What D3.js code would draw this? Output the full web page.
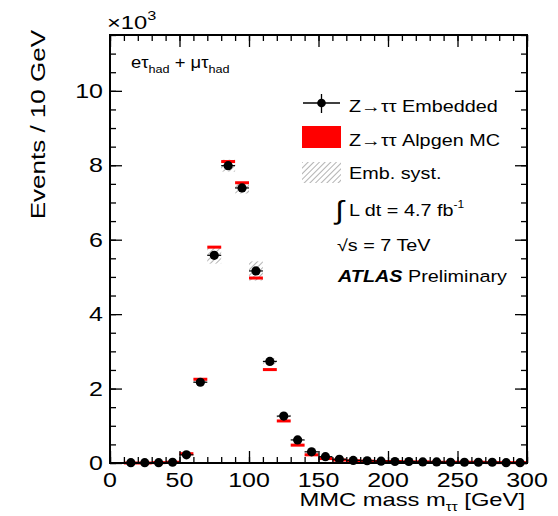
<!DOCTYPE html>
<html>
<head>
<meta charset="utf-8">
<script src="https://cdn.jsdelivr.net/npm/d3@7"></script>
<style>
  body { margin: 0; background: #fff; }
  text { font-family: "Liberation Sans", Arial, Helvetica, sans-serif; fill: #000; }
</style>
</head>
<body>
<div id="chart"></div>
<script>
// Bin centres (GeV) and contents in units of 10^3 events
var binCenters = [15, 25, 35, 45, 55, 65, 75, 85, 95, 105, 115, 125, 135, 145, 155,
                  165, 175, 185, 195, 205, 215, 225, 235, 245, 255, 265, 275, 285, 295];
var embedded = [0.01, 0.01, 0.01, 0.02, 0.22, 2.17, 5.58, 7.99, 7.39, 5.16, 2.73, 1.26, 0.62, 0.30, 0.17,
                0.10, 0.07, 0.06, 0.05, 0.04, 0.04, 0.03, 0.03, 0.02, 0.02, 0.02, 0.02, 0.01, 0.01];
var alpgen = [0.0, 0.0, 0.01, 0.02, 0.25, 2.25, 5.80, 8.10, 7.53, 4.97, 2.51, 1.13, 0.48, 0.22, 0.12,
              0.08, 0.06, 0.05, 0.04, 0.04, 0.03, 0.03, 0.02, 0.02, 0.02, 0.02, 0.01, 0.01, 0.01];
var systFrac = [0.05, 0.05, 0.05, 0.05, 0.05, 0.02, 0.04, 0.02, 0.02, 0.05, 0.03, 0.03, 0.04, 0.05, 0.05,
                0.05, 0.05, 0.05, 0.05, 0.05, 0.05, 0.05, 0.05, 0.05, 0.05, 0.05, 0.05, 0.05, 0.05];
var xTicks = [0, 50, 100, 150, 200, 250, 300];
var yTicks = [0, 2, 4, 6, 8, 10];
var legendText = ["Z→ττ Embedded", "Z→ττ Alpgen MC", "Emb. syst."];

var W = 558, H = 516;
var margin = {top: 35, right: 31, bottom: 53, left: 110},
    width = W - margin.left - margin.right,
    height = H - margin.top - margin.bottom;
var SX = 1.25; // text in the reference is drawn wide

var svg = d3.select("#chart").append("svg")
  .attr("width", W).attr("height", H);

// place a text at (px,py), widened along its baseline
function wide(sel, px, py, s) {
  return sel.attr("transform", "translate(" + px + "," + py + ") scale(" + (s || SX) + ",1)");
}

var defs = svg.append("defs");
var pat = defs.append("pattern")
  .attr("id", "hatch")
  .attr("patternUnits", "userSpaceOnUse")
  .attr("width", 4).attr("height", 4)
  .attr("patternTransform", "rotate(45)");
pat.append("line")
  .attr("x1", 0).attr("y1", 0).attr("x2", 0).attr("y2", 4)
  .attr("stroke", "#8a8a8a").attr("stroke-width", 1.3);

var g = svg.append("g")
  .attr("transform", "translate(" + margin.left + "," + margin.top + ")");

var x = d3.scaleLinear().domain([0, 300]).range([0, width]);
var y = d3.scaleLinear().domain([0, 11.5]).range([height, 0]);
var halfBin = 5;

// Embedded systematic band (hatched)
g.selectAll(".syst").data(binCenters).enter().append("rect")
  .attr("x", function(d) { return x(d - halfBin); })
  .attr("width", function(d) { return x(d + halfBin) - x(d - halfBin); })
  .attr("y", function(d, i) { return y(embedded[i] * (1 + systFrac[i])); })
  .attr("height", function(d, i) { return Math.max(1, y(embedded[i] * (1 - systFrac[i])) - y(embedded[i] * (1 + systFrac[i]))); })
  .attr("fill", "url(#hatch)");

// Alpgen MC (red boxes)
g.selectAll(".mc").data(binCenters).enter().append("rect")
  .attr("x", function(d) { return x(d - halfBin); })
  .attr("width", function(d) { return x(d + halfBin) - x(d - halfBin); })
  .attr("y", function(d, i) { return y(alpgen[i]) - 1.5; })
  .attr("height", 3)
  .attr("fill", "#ff0000");

// Embedded data points with error bars
var pts = g.selectAll(".pt").data(binCenters).enter().append("g");
pts.append("line")
  .attr("x1", function(d) { return x(d - halfBin); })
  .attr("x2", function(d) { return x(d + halfBin); })
  .attr("y1", function(d, i) { return y(embedded[i]); })
  .attr("y2", function(d, i) { return y(embedded[i]); })
  .attr("stroke", "#000").attr("stroke-width", 1.2);
pts.append("line")
  .attr("x1", function(d) { return x(d); })
  .attr("x2", function(d) { return x(d); })
  .attr("y1", function(d, i) { return y(embedded[i] + Math.sqrt(embedded[i] * 1000) / 1000); })
  .attr("y2", function(d, i) { return y(Math.max(0, embedded[i] - Math.sqrt(embedded[i] * 1000) / 1000)); })
  .attr("stroke", "#000").attr("stroke-width", 1.2);
pts.append("circle")
  .attr("cx", function(d) { return x(d); })
  .attr("cy", function(d, i) { return y(embedded[i]); })
  .attr("r", 4.6)
  .attr("fill", "#000");

// Axes, ROOT style: ticks inside on all four sides
function ticksFor(scale, step) {
  var out = [], dom = scale.domain();
  for (var v = dom[0]; v <= dom[1] + 1e-9; v += step) out.push(+v.toFixed(6));
  return out;
}
var xMinor = ticksFor(x, 10), yMinor = ticksFor(y, 0.5);

g.append("g").attr("transform", "translate(0," + height + ")")
  .call(d3.axisTop(x).tickValues(xMinor).tickSize(6).tickFormat(""));
g.append("g").attr("transform", "translate(0," + height + ")")
  .call(d3.axisTop(x).tickValues(xTicks).tickSize(12).tickFormat(""));
g.append("g")
  .call(d3.axisBottom(x).tickValues(xMinor).tickSize(6).tickFormat(""));
g.append("g")
  .call(d3.axisBottom(x).tickValues(xTicks).tickSize(12).tickFormat(""));
g.append("g")
  .call(d3.axisRight(y).tickValues(yMinor).tickSize(6).tickFormat(""));
g.append("g")
  .call(d3.axisRight(y).tickValues(yTicks).tickSize(12).tickFormat(""));
g.append("g").attr("transform", "translate(" + width + ",0)")
  .call(d3.axisLeft(y).tickValues(yMinor).tickSize(6).tickFormat(""));
g.append("g").attr("transform", "translate(" + width + ",0)")
  .call(d3.axisLeft(y).tickValues(yTicks).tickSize(12).tickFormat(""));
g.selectAll(".domain").remove();
g.selectAll(".tick line").attr("stroke", "#000").attr("stroke-width", 1.3);

// Frame
g.append("rect")
  .attr("x", 0).attr("y", 0).attr("width", width).attr("height", height)
  .attr("fill", "none").attr("stroke", "#000").attr("stroke-width", 2);

// Tick labels
g.selectAll(".xl").data(xTicks).enter().append("text")
  .each(function(d) { wide(d3.select(this), x(d), height + 24); })
  .attr("text-anchor", "middle")
  .attr("font-size", 20)
  .text(function(d) { return d; });
g.selectAll(".yl").data(yTicks).enter().append("text")
  .each(function(d) { wide(d3.select(this), -7, y(d) + 7); })
  .attr("text-anchor", "end")
  .attr("font-size", 20)
  .text(function(d) { return d; });

// Axis titles
var xt = wide(g.append("text"), width - 2, height + 43)
  .attr("text-anchor", "end").attr("font-size", 19)
  .text("MMC mass m");
xt.append("tspan").attr("font-size", 12).attr("dy", 5).text("ττ");
xt.append("tspan").attr("dy", -5).text(" [GeV]");

svg.append("text")
  .attr("transform", "translate(45," + (margin.top - 5) + ") rotate(-90) scale(1.3,1)")
  .attr("text-anchor", "end").attr("font-size", 20)
  .text("Events / 10 GeV");

var ex = wide(svg.append("text"), margin.left - 3, margin.top - 6)
  .attr("font-size", 19).text("×10");
ex.append("tspan").attr("font-size", 13).attr("dy", -9).text("3");

// Channel label
var ch = wide(g.append("text"), 21, 33, 1.15).attr("font-size", 16);
ch.append("tspan").text("eτ");
ch.append("tspan").attr("font-size", 11).attr("dy", 5).text("had");
ch.append("tspan").attr("dy", -5).text(" + μτ");
ch.append("tspan").attr("font-size", 11).attr("dy", 5).text("had");

// Legend
var lg = svg.append("g");
lg.append("line").attr("x1", 303).attr("x2", 340).attr("y1", 103).attr("y2", 103)
  .attr("stroke", "#000").attr("stroke-width", 1.3);
lg.append("line").attr("x1", 321.5).attr("x2", 321.5).attr("y1", 94).attr("y2", 113)
  .attr("stroke", "#000").attr("stroke-width", 1.3);
lg.append("circle").attr("cx", 321.5).attr("cy", 103).attr("r", 4.3).attr("fill", "#000");
lg.append("rect").attr("x", 302).attr("y", 126).attr("width", 39).attr("height", 22)
  .attr("fill", "#ff0000");
lg.append("rect").attr("x", 302).attr("y", 162).attr("width", 39).attr("height", 21)
  .attr("fill", "url(#hatch)");

lg.selectAll(".lt").data(legendText).enter().append("text")
  .each(function(d, i) { wide(d3.select(this), 349, 112 + i * 33.5, 1.2); })
  .attr("font-size", 16.5)
  .text(function(d) { return d; });

var lumi = wide(lg.append("text"), 335, 216, 1.2).attr("font-size", 16.5);
lumi.append("tspan").attr("font-size", 26).attr("dy", 3).text("∫");
lumi.append("tspan").attr("dy", -3).text(" L dt = 4.7 fb");
lumi.append("tspan").attr("font-size", 10).attr("dy", -8).text("-1");

wide(lg.append("text"), 337, 251, 1.2).attr("font-size", 16.5).text("√s = 7 TeV");

var atl = wide(lg.append("text"), 338, 282, 1.2).attr("font-size", 16.5);
atl.append("tspan").attr("font-weight", "bold").attr("font-style", "italic").text("ATLAS");
atl.append("tspan").text("  Preliminary");
</script>
</body>
</html>
